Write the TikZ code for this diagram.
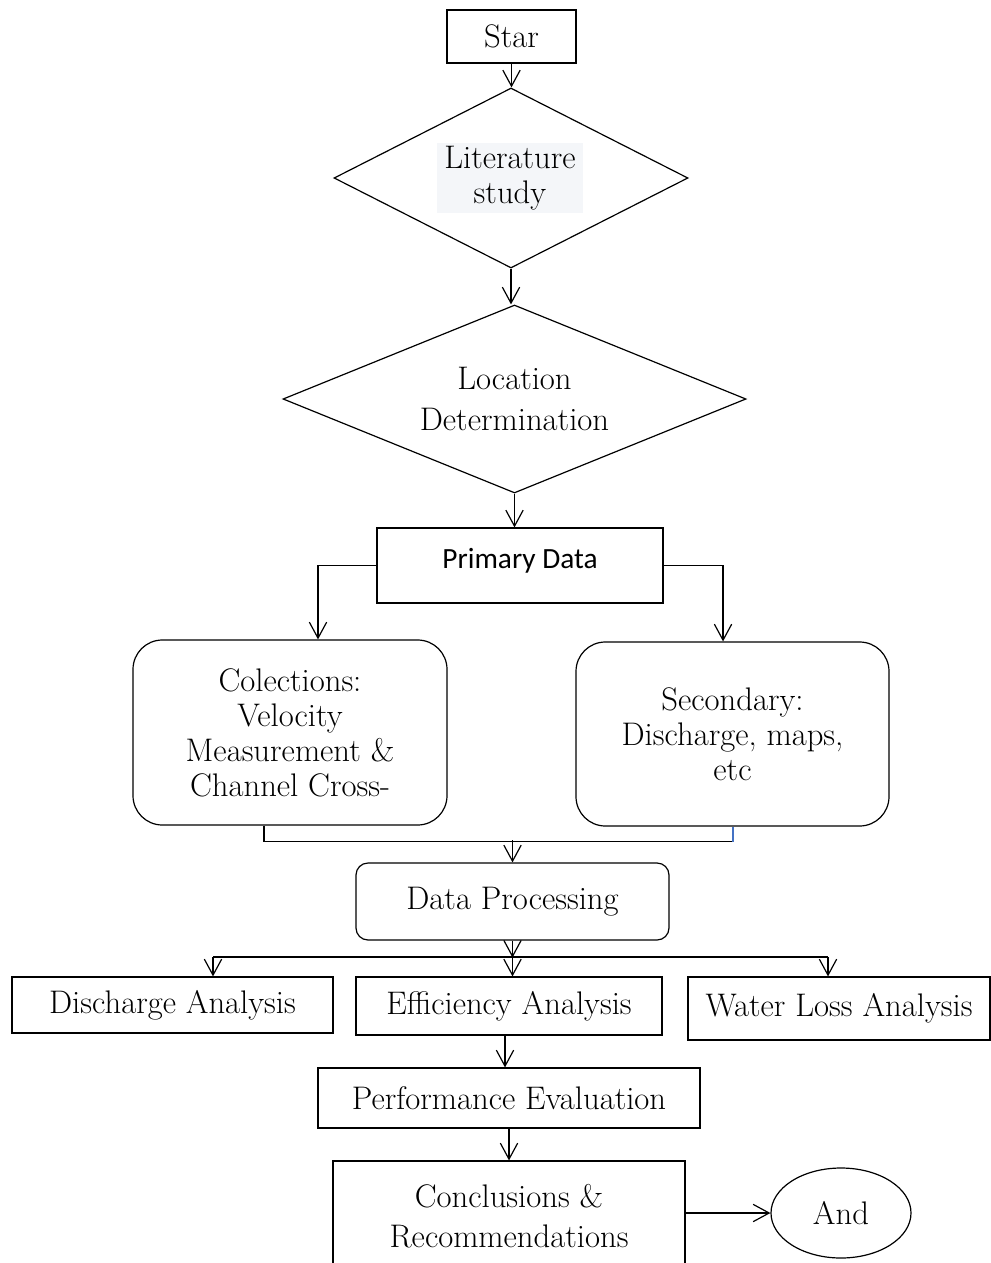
\documentclass[tikz,border=0pt]{standalone}
\usepackage{fontspec}
\newfontfamily\carlito{Carlito}
\usetikzlibrary{shapes.geometric,arrows.meta}
\definecolor{litbg}{RGB}{244,246,249}
\definecolor{blueline}{RGB}{68,114,196}
\begin{document}
\begin{tikzpicture}[x=0.75pt,y=-0.75pt,
  every node/.style={font=\fontsize{24.5}{26.25}\selectfont, align=center, inner sep=0pt},
  box/.style={draw, line width=0.9pt, rectangle},
  rbox/.style={box, rounded corners=22pt},
  dia/.style={draw, diamond, line width=0.9pt, shape aspect=2},
  link/.style={draw, line width=0.9pt, -{Straight Barb[length=12pt,width=13pt]}},
  plain/.style={draw, line width=0.9pt}]
\fill[white] (0,0) rectangle (991,1263);
\useasboundingbox (0,0) rectangle (991,1263);

\node[box, minimum width=96.75pt, minimum height=39.75pt] (start) at (511.5,36.5) {Star};
\node[dia, minimum width=265.5pt, minimum height=135pt] (lit) at (511,178) {};
\node[fill=litbg, minimum width=109.5pt, minimum height=52.5pt] (littext) at (510,178) {Literature\\study};
\node[dia, minimum width=347.25pt, minimum height=141pt] (loc) at (514.5,399) {Location\\[5pt]Determination};
\node[box, minimum width=214.5pt, minimum height=56.25pt, text height=14pt, text depth=10pt, font=\carlito\fontsize{22}{26}\selectfont] (prim) at (520,565.5) {Primary Data};
\node[rbox, minimum width=235.5pt, minimum height=138.75pt] (col) at (290,732.5) {Colections:\\Velocity\\Measurement \&\\Channel Cross-};
\node[rbox, minimum width=234.75pt, minimum height=138pt] (sec) at (732.5,734) {Secondary:\\Discharge, maps,\\etc};
\node[box, rounded corners=9pt, minimum width=234.75pt, minimum height=57.75pt] (dp) at (512.5,901.5) {Data Processing};
\node[box, minimum width=240.75pt, minimum height=42pt] (da) at (172.5,1005) {Discharge Analysis};
\node[box, minimum width=229.5pt, minimum height=43.5pt] (ea) at (509,1006) {Efficiency Analysis};
\node[box, minimum width=226.5pt, minimum height=47.25pt] (wa) at (839,1008.5) {Water Loss Analysis};
\node[box, minimum width=286.5pt, minimum height=45pt] (pe) at (509,1098) {Performance Evaluation};
\node[box, minimum width=264pt, minimum height=82.5pt] (cr) at (509,1216) {Conclusions \&\\[4pt]Recommendations};
\node[draw, ellipse, line width=0.9pt, minimum width=105pt, minimum height=67.5pt] (and) at (841,1213) {And};

\draw[link] (start.south) -- (start.south |- lit.north);
\draw[link] (lit.south) -- (lit.south |- loc.north);
\draw[link] (loc.south) -- (loc.south |- prim.north);
\draw[link] (prim.west) -| ([xshift=21pt]col.north);
\draw[link] (prim.east) -| ([xshift=-7.1pt]sec.north);
\draw[plain] ([xshift=-19.5pt]col.south) -- ++(0,16) -- ++(469,0) coordinate (mr);
\draw[line width=0.9pt, draw=blueline] (mr) -- (mr |- sec.south);
\draw[link] (dp.north) ++(0,-22) -- (dp.north);
\draw[link] (dp.south) -- ++(0,17) coordinate (split);
\coordinate (sl) at (213,957);
\coordinate (sr) at (828,957);
\draw[plain] (sl) -- (sr);
\draw[link] (sl) -- (sl |- da.north);
\draw[link] (split) -- (split |- ea.north);
\draw[link] (sr) -- (sr |- wa.north);
\draw[link] ([xshift=-3pt]ea.south) -- ([xshift=-3pt]ea.south |- pe.north);
\draw[link] (pe.south) -- (pe.south |- cr.north);
\draw[link] (and.west -| cr.east) -- (and.west);
\end{tikzpicture}
\end{document}
